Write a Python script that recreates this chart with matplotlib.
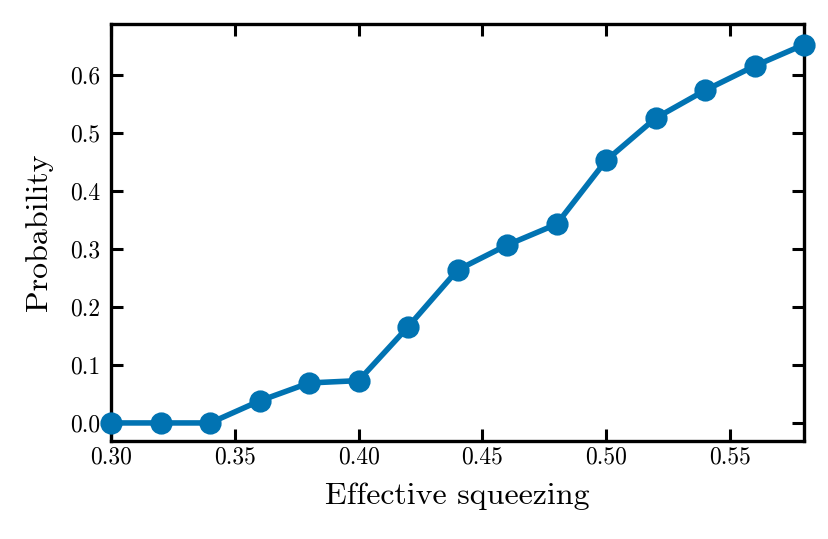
import numpy as np
import matplotlib
matplotlib.use('Agg')
import matplotlib.pyplot as plt

plt.rcParams['font.family'] = 'serif'
plt.rcParams['font.serif'] = ['cmr10']
plt.rcParams['mathtext.fontset'] = 'cm'
plt.rcParams['axes.formatter.use_mathtext'] = True

squeezing = [0.30, 0.32, 0.34, 0.36, 0.38, 0.40, 0.42, 0.44, 0.46, 0.48,
             0.50, 0.52, 0.54, 0.56, 0.58]
probability = [0.0, 0.0, 0.0, 0.038, 0.069, 0.073, 0.166, 0.264, 0.307, 0.343,
               0.453, 0.526, 0.574, 0.616, 0.653]
xticks = [0.30, 0.35, 0.40, 0.45, 0.50, 0.55]
yticks = [0.0, 0.1, 0.2, 0.3, 0.4, 0.5, 0.6]

fig, ax = plt.subplots(figsize=(4.145, 2.695), dpi=200)
fig.subplots_adjust(left=0.134, right=0.97, top=0.955, bottom=0.182)

ax.plot(squeezing, probability, '-o', color='#0173B2', lw=2.0, ms=7.0, clip_on=False, zorder=3)

ax.set_xlim(0.30, 0.58)
ax.set_ylim(-0.031, 0.688)
ax.set_xticks(xticks)
ax.set_xticklabels(['%.2f' % v for v in xticks])
ax.set_yticks(yticks)
ax.set_yticklabels(['%.1f' % v for v in yticks])
ax.tick_params(direction='in', top=True, right=True, length=4.2, width=1.1, labelsize=8.5, pad=4)
ax.tick_params(axis='x', pad=2)
for s in ax.spines.values():
    s.set_linewidth(1.2)

ax.set_xlabel('Effective squeezing', fontsize=11.5, labelpad=5)
ax.set_ylabel('Probability', fontsize=11.5, labelpad=6)

fig.savefig('out.png', dpi=200)
